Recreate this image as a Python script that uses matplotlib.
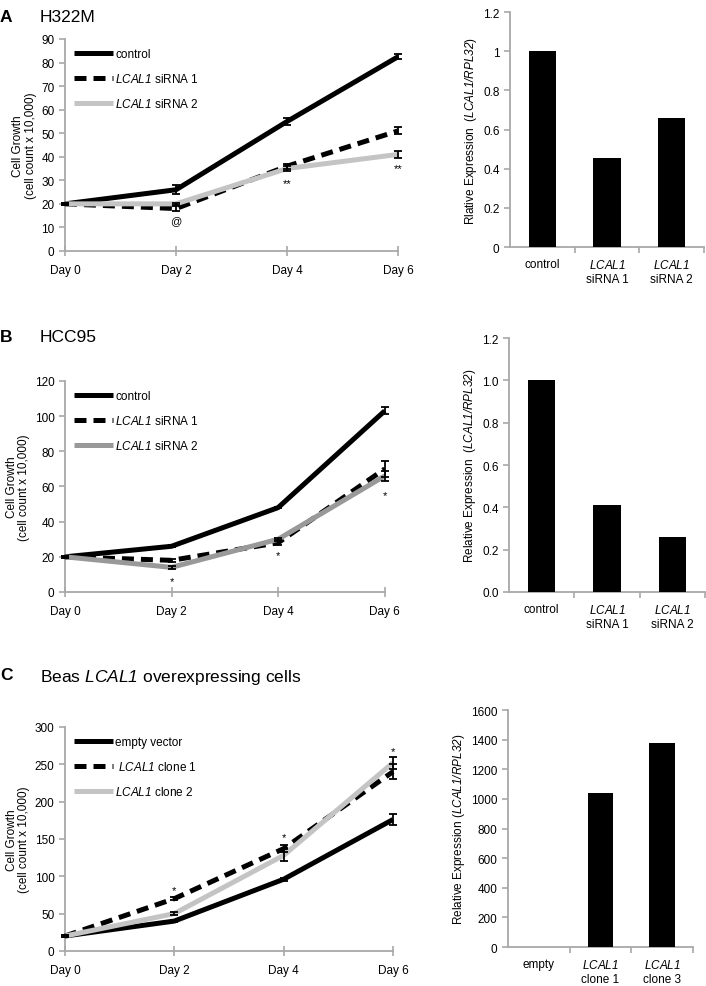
import matplotlib
matplotlib.use("Agg")
from matplotlib import pyplot as plt

plt.rcParams["font.family"] = ["Liberation Sans", "DejaVu Sans"]
# everything inside $...$ is the italic gene name, digits included
plt.rcParams["mathtext.fontset"] = "custom"
plt.rcParams["mathtext.rm"] = "Liberation Sans:italic"
plt.rcParams["mathtext.it"] = "Liberation Sans:italic"

days = ["Day 0", "Day 2", "Day 4", "Day 6"]

# panel A - H322M
a_control = [20, 26, 55, 82.5]
a_control_err = [0.5, 2, 1.5, 1]
a_sirna1 = [20, 18, 36, 51]
a_sirna1_err = [0.5, 1, 1, 1.5]
a_sirna2 = [20, 20, 35, 41]
a_sirna2_err = [0.5, 0.5, 1, 1.5]
a_marks = [(1, 13, "@"), (2, 29, "**"), (3, 35, "**")]
a_bar_labels = ["control", "$LCAL1$\nsiRNA 1", "$LCAL1$\nsiRNA 2"]
a_bar_values = [1.0, 0.455, 0.66]

# panel B - HCC95
b_control = [20, 26, 48, 103]
b_control_err = [0.5, 0.5, 0.5, 2]
b_sirna1 = [20, 18, 28, 70]
b_sirna1_err = [0.5, 1, 1, 4.5]
b_sirna2 = [20, 14, 30, 66]
b_sirna2_err = [0.5, 1, 0.5, 3]
b_marks = [(1, 6, "*"), (2, 21, "*"), (3, 55, "*")]
b_bar_labels = ["control", "$LCAL1$\nsiRNA 1", "$LCAL1$\nsiRNA 2"]
b_bar_values = [1.0, 0.41, 0.26]

# panel C - Beas overexpression
c_empty = [20, 40, 96, 176]
c_empty_err = [1, 1, 2, 7]
c_clone1 = [20, 70, 137, 240]
c_clone1_err = [1, 2, 5, 10]
c_clone2 = [20, 50, 128, 252]
c_clone2_err = [1, 2, 8, 8]
c_marks = [(1, 82, "*"), (2, 153, "*"), (3, 268, "*")]
c_bar_labels = ["empty", "$LCAL1$\nclone 1", "$LCAL1$\nclone 3"]
c_bar_values = [0, 1040, 1375]

SPINE = "#a8a8a8"


def style_axes(ax):
    for side in ["top", "right"]:
        ax.spines[side].set_visible(False)
    for side in ["left", "bottom"]:
        ax.spines[side].set_color(SPINE)
        ax.spines[side].set_linewidth(1.3)
    ax.tick_params(axis="y", colors=SPINE, labelcolor="black", labelsize=8.5,
                   direction="out", length=4, width=1.2)


def line_panel(ax, series, ymax, ystep, marks, legend_loc):
    x = list(range(len(days)))
    for values, errs, color, ls, label in series:
        line, = ax.plot(x, values, color=color, lw=3.6, ls=ls, label=label,
                        clip_on=False, solid_capstyle="butt", zorder=3)
        if ls == "--":
            line.set_dashes((2.4, 1.4))
        ax.errorbar(x, values, yerr=errs, fmt="none", ecolor="black",
                    elinewidth=1.3, capsize=3, capthick=1.3, clip_on=False, zorder=4)
    for xi, yi, txt in marks:
        ax.text(xi, yi, txt, ha="center", va="center", fontsize=8)
    ax.set_xlim(0, 3)
    ax.set_ylim(0, ymax)
    ax.set_yticks(range(0, ymax + 1, ystep))
    ax.set_xticks(x)
    ax.set_xticklabels(days)
    style_axes(ax)
    ax.tick_params(axis="x", colors=SPINE, labelcolor="black", labelsize=8.5,
                   direction="inout", length=7, width=1.2, pad=6)
    ax.set_ylabel("Cell Growth\n(cell count x 10,000)", fontsize=8.5, labelpad=3,
                  linespacing=1.1)
    ax.legend(loc=legend_loc, frameon=False, fontsize=8.5, handlelength=3.3,
              handletextpad=0.15, labelspacing=1.0, borderaxespad=0.4)


def bar_panel(ax, labels, values, ymax, ystep, ylabel, fmt):
    x = list(range(len(labels)))
    ax.bar(x, values, width=0.42, color="black", zorder=3)
    ax.set_xlim(-0.5, len(labels) - 0.5)
    ax.set_ylim(0, ymax)
    ticks = [i * ystep for i in range(int(round(ymax / ystep)) + 1)]
    ax.set_yticks(ticks)
    ax.set_yticklabels([fmt(t) for t in ticks])
    ax.set_xticks(x)
    ax.set_xticklabels(labels)
    ax.set_xticks([i + 0.5 for i in x], minor=True)
    style_axes(ax)
    ax.tick_params(axis="x", which="major", length=0, labelsize=8.5, pad=8)
    ax.tick_params(axis="x", which="minor", colors=SPINE, direction="out",
                   length=4, width=1.2)
    ax.set_ylabel(ylabel, fontsize=8.5, labelpad=3)


fig = plt.figure(figsize=(7.06, 9.87), dpi=100)

# ---- A
ax = fig.add_axes([0.092, 0.7447, 0.472, 0.2148])
line_panel(ax, [
    (a_control, a_control_err, "black", "-", "control"),
    (a_sirna1, a_sirna1_err, "black", "--", "$LCAL1$ siRNA 1"),
    (a_sirna2, a_sirna2_err, "#c4c4c4", "-", "$LCAL1$ siRNA 2"),
], 90, 10, a_marks, "upper left")
ax = fig.add_axes([0.7224, 0.7487, 0.275, 0.2381])
bar_panel(ax, a_bar_labels, a_bar_values, 1.2, 0.2,
          "Rlative Expression  ($LCAL1/RPL32$)",
          lambda t: ("%g" % round(t, 1)))

# ---- B
ax = fig.add_axes([0.092, 0.3992, 0.453, 0.2138])
line_panel(ax, [
    (b_control, b_control_err, "black", "-", "control"),
    (b_sirna1, b_sirna1_err, "black", "--", "$LCAL1$ siRNA 1"),
    (b_sirna2, b_sirna2_err, "#999999", "-", "$LCAL1$ siRNA 2"),
], 120, 20, b_marks, "upper left")
ax = fig.add_axes([0.721, 0.3992, 0.2776, 0.2573])
bar_panel(ax, b_bar_labels, b_bar_values, 1.2, 0.2,
          "Relative Expression  ($LCAL1/RPL32$)",
          lambda t: "%.1f" % t)

# ---- C
ax = fig.add_axes([0.092, 0.0355, 0.4646, 0.227])
line_panel(ax, [
    (c_empty, c_empty_err, "black", "-", "empty vector"),
    (c_clone1, c_clone1_err, "black", "--", " $LCAL1$ clone 1"),
    (c_clone2, c_clone2_err, "#c4c4c4", "-", "$LCAL1$ clone 2"),
], 300, 50, c_marks, "upper left")
ax = fig.add_axes([0.7195, 0.0395, 0.262, 0.2401])
bar_panel(ax, c_bar_labels, c_bar_values, 1600, 200,
          "Relative Expression ($LCAL1/RPL32$)",
          lambda t: "%d" % t)

# panel letters and titles
fig.text(0.0, 0.990, "A", fontsize=12.5, fontweight="bold", va="top")
fig.text(0.056, 0.990, "H322M", fontsize=12.5, va="top")
fig.text(0.0, 0.666, "B", fontsize=12.5, fontweight="bold", va="top")
fig.text(0.056, 0.666, "HCC95", fontsize=12.5, va="top")
fig.text(0.0, 0.323, "C", fontsize=12.5, fontweight="bold", va="top")
fig.text(0.056, 0.323, "Beas $LCAL1$ overexpressing cells", fontsize=12.5, va="top")

fig.savefig("out.png", dpi=100)
